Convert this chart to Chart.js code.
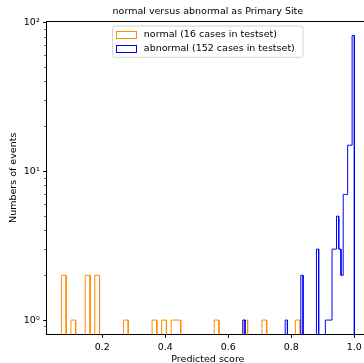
<!DOCTYPE html>
<html><head><meta charset="utf-8">
<script src="https://cdn.jsdelivr.net/npm/chart.js@4/dist/chart.umd.min.js"></script>
<style>html,body{margin:0;padding:0;background:#fff;overflow:hidden;width:364px;height:363px}canvas{display:block}</style>
</head><body>
<canvas id="c" width="372" height="363"></canvas>
<script>
// ---- data ----
const chartTitle = 'normal versus abnormal as Primary Site';
const seriesNames = ['normal (16 cases in testset)', 'abnormal (152 cases in testset)'];
const xLabel = 'Predicted score';
const yLabel = 'Numbers of events';
// histogram ranges (min, max of each sample) and 50-bin counts
const normalRange = [0.070, 0.828];
const abnormalRange = [0.646, 1.000];
const normalCounts = [2,0,1,0,0,2,0,2,0,0, 0,0,0,1,0,0,0,0,0,1, 0,1,0,1,1,0,0,0,0,0, 0,0,1,0,0,0,0,0,1,0, 0,0,1,0,0,0,0,0,0,1];
const abnormalCounts = [1,0,0,0,0,0,0,0,0,0, 0,0,0,0,0,0,0,0,0,1, 0,0,0,0,0,0,2,0,0,0, 0,0,0,3,0,0,0,1,1,1, 3,3,5,3,2,7,7,15,15,82];
const xTicks = [0.2, 0.4, 0.6, 0.8, 1.0];
const yMajorTicks = [1, 10, 100];
const yMajorLabels = ['10⁰', '10¹', '10²'];
const yMinorTicks = [0.9, 2, 3, 4, 5, 6, 7, 8, 9, 20, 30, 40, 50, 60, 70, 80, 90];
const seriesColors = ['#ff8c00', '#0000ff'];

// ---- build step outlines (matplotlib histtype='step') ----
const FLOOR = 0.3; // below the axis: empty bins fall outside the plot
function stepOutline(range, counts) {
  const n = counts.length, w = (range[1] - range[0]) / n;
  const pts = [{x: range[0], y: FLOOR}];
  counts.forEach((c, i) => {
    const y = c > 0 ? c : FLOOR;
    pts.push({x: range[0] + i * w, y: y}, {x: range[0] + (i + 1) * w, y: y});
  });
  pts.push({x: range[1], y: FLOOR});
  return pts;
}
// autoscale like matplotlib (5% margins, log margins on y)
const lo = Math.min(normalRange[0], abnormalRange[0]);
const hi = Math.max(normalRange[1], abnormalRange[1]);
const xMin = lo - 0.05 * (hi - lo), xMax = hi + 0.05 * (hi - lo);
const ymaxLog = Math.log10(Math.max(...normalCounts, ...abnormalCounts));
const yMin = Math.pow(10, -0.05 * ymaxLog), yMax = Math.pow(10, 1.05 * ymaxLog);

const FONT = 'DejaVu Sans';
const FS = 9.5;
Chart.defaults.color = '#000';
Chart.defaults.font.family = FONT;
Chart.defaults.font.size = FS;

const LEG = {pad: 4.1, boxW: 23.25, handleW: 20, handleH: 7};

const framePlugin = {
  id: 'frame',
  afterLayout(chart) {
    const ca = chart.chartArea, lg = chart.legend;
    const cx = (ca.left + ca.right) / 2;
    lg.left = cx - 96.1; lg.top = 25.85;
    lg.width = 200; lg.height = 80;
    lg.right = lg.left + lg.width; lg.bottom = lg.top + lg.height;
  },
  beforeDraw(chart) {
    const ctx = chart.ctx, ca = chart.chartArea;
    const cx = (ca.left + ca.right) / 2;
    // legend frame
    const x0 = cx - 95.3, y0 = 26, w = 190.6, h = 31.3, r = 2.5;
    ctx.save();
    ctx.beginPath();
    ctx.moveTo(x0 + r, y0); ctx.lineTo(x0 + w - r, y0); ctx.arcTo(x0 + w, y0, x0 + w, y0 + r, r);
    ctx.lineTo(x0 + w, y0 + h - r); ctx.arcTo(x0 + w, y0 + h, x0 + w - r, y0 + h, r);
    ctx.lineTo(x0 + r, y0 + h); ctx.arcTo(x0, y0 + h, x0, y0 + h - r, r);
    ctx.lineTo(x0, y0 + r); ctx.arcTo(x0, y0, x0 + r, y0, r);
    ctx.closePath();
    ctx.fillStyle = 'rgba(255,255,255,0.8)'; ctx.fill();
    ctx.strokeStyle = '#d6d6d6'; ctx.lineWidth = 1; ctx.stroke();
    ctx.restore();
  },
  afterDraw(chart) {
    const ctx = chart.ctx, ca = chart.chartArea, ys = chart.scales.y, lg = chart.legend;
    ctx.save();
    ctx.strokeStyle = '#000'; ctx.lineWidth = 1;
    // top & right spines
    ctx.beginPath();
    const t = Math.round(ca.top - 0.5) + 0.5, r = Math.round(ca.right - 0.5) + 0.5;
    ctx.moveTo(ca.left, t); ctx.lineTo(r, t); ctx.lineTo(r, ca.bottom);
    ctx.stroke();
    // minor log ticks
    ctx.lineWidth = 0.7;
    const lx = Math.round(ca.left - 0.5) + 0.5;
    yMinorTicks.forEach(v => {
      const y = ys.getPixelForValue(v);
      if (y < ca.top || y > ca.bottom) return;
      const yy = Math.round(y - 0.5) + 0.5;
      ctx.beginPath(); ctx.moveTo(lx - 2.2, yy); ctx.lineTo(lx, yy); ctx.stroke();
    });
    // legend handles
    ctx.lineWidth = 1;
    const itemH = Math.max(FS, LEG.handleH);
    seriesColors.forEach((c, i) => {
      const hx = lg.left + LEG.pad;
      const hy = lg.top + LEG.pad + i * (itemH + LEG.pad) + (itemH - LEG.handleH) / 2;
      ctx.strokeStyle = c;
      ctx.strokeRect(Math.round(hx) + 0.5, Math.round(hy) + 0.5, LEG.handleW, LEG.handleH);
    });
    ctx.restore();
  }
};

new Chart(document.getElementById('c'), {
  type: 'line',
  data: {
    datasets: [
      {label: seriesNames[0], data: stepOutline(normalRange, normalCounts), borderColor: seriesColors[0], backgroundColor: seriesColors[0], borderWidth: 1, pointRadius: 0, fill: false, tension: 0, order: 2},
      {label: seriesNames[1], data: stepOutline(abnormalRange, abnormalCounts), borderColor: seriesColors[1], backgroundColor: seriesColors[1], borderWidth: 1, pointRadius: 0, fill: false, tension: 0, order: 1}
    ]
  },
  options: {
    responsive: false, animation: false, devicePixelRatio: 1,
    layout: {padding: {left: 0, right: 3, top: 0, bottom: 0}},
    plugins: {
      title: {display: true, text: chartTitle, fullSize: false, color: '#000', font: {family: FONT, size: FS, weight: 'normal', lineHeight: 1.2}, padding: {top: 6.3, bottom: 3.6}},
      legend: {
        position: 'chartArea', align: 'start',
        labels: {
          boxWidth: LEG.boxW, boxHeight: LEG.handleH, padding: LEG.pad, color: '#000', font: {family: FONT, size: FS},
          generateLabels(chart) {
            return chart.data.datasets.map((d, i) => ({text: d.label, fillStyle: 'rgba(0,0,0,0)', strokeStyle: 'rgba(0,0,0,0)', lineWidth: 0, datasetIndex: i, fontColor: '#000'}));
          }
        }
      },
      tooltip: {enabled: false}
    },
    scales: {
      x: {
        type: 'linear', min: xMin, max: xMax,
        afterBuildTicks(s) { s.ticks = xTicks.map(v => ({value: v})); },
        afterFit(s) { s.height = 28.7; },
        ticks: {autoSkip: false, maxRotation: 0, padding: 3.8, color: '#000', font: {family: FONT, size: FS}, callback: v => Number(v).toFixed(1)},
        grid: {display: true, drawOnChartArea: false, drawTicks: true, tickLength: 3.5, tickColor: '#000', tickWidth: 1},
        border: {display: true, color: '#000', width: 1},
        title: {display: true, text: xLabel, color: '#000', font: {family: FONT, size: FS, lineHeight: 0.8}, padding: {top: 0, bottom: 0}}
      },
      y: {
        type: 'logarithmic', min: yMin, max: yMax,
        afterBuildTicks(s) { s.ticks = yMajorTicks.map(v => ({value: v})); },
        afterFit(s) { s.width = 46.7; },
        ticks: {autoSkip: false, padding: 3.5, color: '#000', font: {family: FONT, size: FS}, callback: (v) => { const k = yMajorTicks.indexOf(v); return k >= 0 ? yMajorLabels[k] : ''; }},
        grid: {display: true, drawOnChartArea: false, drawTicks: true, tickLength: 3.5, tickColor: '#000', tickWidth: 1},
        border: {display: true, color: '#000', width: 1},
        title: {display: true, text: yLabel, color: '#000', font: {family: FONT, size: FS, lineHeight: 1.2}, padding: {top: 8.3, bottom: 0}}
      }
    }
  },
  plugins: [framePlugin]
});
</script>
</body></html>
